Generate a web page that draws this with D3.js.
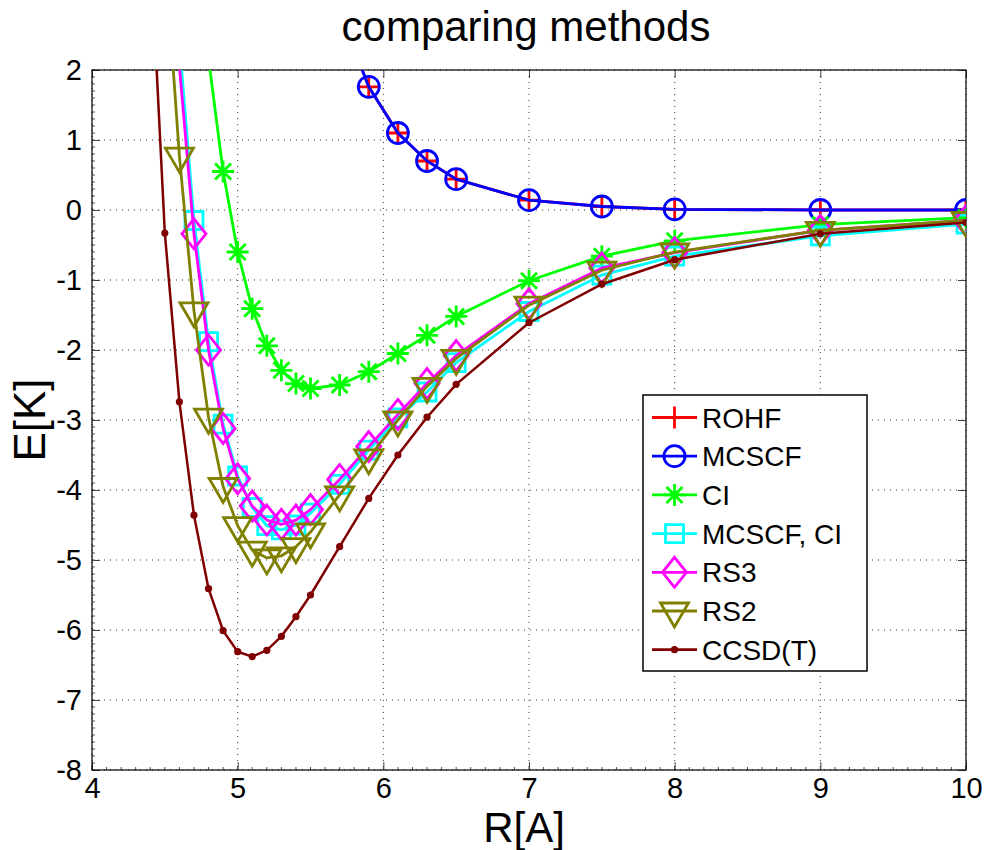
<!DOCTYPE html>
<html>
<head>
<meta charset="utf-8">
<script src="https://cdn.jsdelivr.net/npm/d3@7"></script>
<style>
  body { margin: 0; background: #fff; }
  text { font-family: "Liberation Sans", Arial, Helvetica, sans-serif; fill: #000; }
</style>
</head>
<body>
<div class="chart"></div>
<script>
// data
var seriesNames = ["ROHF", "MCSCF", "CI", "MCSCF, CI", "RS3", "RS2", "CCSD(T)"];
var seriesColors = ["#ff0000", "#0000ff", "#00ff00", "#00ffff", "#ff00ff", "#808000", "#800000"];
var seriesMarkers = ["plus", "circle", "asterisk", "square", "diamond", "triangle", "dot"];

var rohfX = [5.7, 5.9, 6.1, 6.3, 6.5, 7, 7.5, 8, 9, 10];
var rohfY = [2.83, 1.76, 1.1, 0.7, 0.44, 0.14, 0.05, 0.01, 0.0, 0.0];

var mcscfX = [5.7, 5.9, 6.1, 6.3, 6.5, 7, 7.5, 8, 9, 10];
var mcscfY = [2.83, 1.76, 1.1, 0.7, 0.44, 0.14, 0.05, 0.01, 0.0, 0.0];

var ciX = [4.8, 4.9, 5.0, 5.1, 5.2, 5.3, 5.4, 5.5, 5.7, 5.9, 6.1, 6.3, 6.5, 7, 7.5, 8, 9, 10];
var ciY = [2.16, 0.55, -0.6, -1.41, -1.94, -2.29, -2.48, -2.55, -2.5, -2.31, -2.05, -1.79, -1.52, -1.01, -0.66, -0.44, -0.21, -0.11];

var mcciX = [4.6, 4.7, 4.8, 4.9, 5.0, 5.1, 5.2, 5.3, 5.4, 5.5, 5.7, 5.9, 6.1, 6.3, 6.5, 7, 7.5, 8, 9, 10];
var mcciY = [2.4, -0.15, -1.88, -3.06, -3.8, -4.25, -4.51, -4.57, -4.5, -4.33, -3.92, -3.43, -2.97, -2.6, -2.18, -1.45, -0.93, -0.66, -0.37, -0.2];

var rs3X = [4.5, 4.6, 4.7, 4.8, 4.9, 5.0, 5.1, 5.2, 5.3, 5.4, 5.5, 5.7, 5.9, 6.1, 6.3, 6.5, 7, 7.5, 8, 9, 10];
var rs3Y = [6.0, 2.05, -0.34, -2.0, -3.12, -3.84, -4.23, -4.43, -4.49, -4.43, -4.28, -3.85, -3.38, -2.92, -2.48, -2.08, -1.34, -0.83, -0.61, -0.29, -0.15];

var rs2X = [4.5, 4.6, 4.7, 4.8, 4.9, 5.0, 5.1, 5.2, 5.3, 5.4, 5.5, 5.7, 5.9, 6.1, 6.3, 6.5, 7, 7.5, 8, 9, 10];
var rs2Y = [3.7, 0.77, -1.44, -2.96, -3.95, -4.51, -4.86, -4.97, -4.94, -4.81, -4.6, -4.07, -3.54, -3.0, -2.52, -2.12, -1.36, -0.86, -0.6, -0.29, -0.15];

var ccsdX = [4.4, 4.5, 4.6, 4.7, 4.8, 4.9, 5.0, 5.1, 5.2, 5.3, 5.4, 5.5, 5.7, 5.9, 6.1, 6.3, 6.5, 7, 7.5, 8, 9, 10];
var ccsdY = [3.83, -0.33, -2.74, -4.36, -5.41, -6.01, -6.31, -6.38, -6.29, -6.09, -5.81, -5.5, -4.81, -4.12, -3.5, -2.96, -2.49, -1.61, -1.06, -0.71, -0.34, -0.18];

var xTicks = [4, 5, 6, 7, 8, 9, 10];
var yTicks = [2, 1, 0, -1, -2, -3, -4, -5, -6, -7, -8];

var allX = [rohfX, mcscfX, ciX, mcciX, rs3X, rs2X, ccsdX];
var allY = [rohfY, mcscfY, ciY, mcciY, rs3Y, rs2Y, ccsdY];

var svgWidth = 984;
var svgHeight = 850;

var margin = { top: 70, right: 18, bottom: 80, left: 92 };
var width = 966 - margin.left;
var height = 770 - margin.top;

var svg = d3.select(".chart")
  .append("svg")
  .attr("width", svgWidth)
  .attr("height", svgHeight);

svg.append("rect").attr("width", svgWidth).attr("height", svgHeight).attr("fill", "#fff");

var chartGroup = svg.append("g")
  .attr("transform", `translate(${margin.left}, ${margin.top})`);

// scales
var xScale = d3.scaleLinear().domain([4, 10]).range([0, width]);
var yScale = d3.scaleLinear().domain([-8, 2]).range([height, 0]);

// dotted grid
chartGroup.append("g")
  .selectAll("line")
  .data(xTicks)
  .enter()
  .append("line")
  .attr("x1", d => xScale(d)).attr("x2", d => xScale(d))
  .attr("y1", 0).attr("y2", height)
  .attr("stroke", "#333").attr("stroke-width", 1)
  .attr("stroke-dasharray", "1,5");

chartGroup.append("g")
  .selectAll("line")
  .data(yTicks)
  .enter()
  .append("line")
  .attr("x1", 0).attr("x2", width)
  .attr("y1", d => yScale(d)).attr("y2", d => yScale(d))
  .attr("stroke", "#333").attr("stroke-width", 1)
  .attr("stroke-dasharray", "1,5");

// axes, ticks inside on all four sides
var bottomAxis = d3.axisBottom(xScale).tickValues(xTicks).tickSizeInner(-8).tickSizeOuter(0).tickPadding(7)
  .tickFormat(d => String(d));
var topAxis = d3.axisTop(xScale).tickValues(xTicks).tickSizeInner(-8).tickSizeOuter(0).tickFormat("");
var leftAxis = d3.axisLeft(yScale).tickValues(yTicks).tickSizeInner(-8).tickSizeOuter(0).tickPadding(10)
  .tickFormat(d => String(d));
var rightAxis = d3.axisRight(yScale).tickValues(yTicks).tickSizeInner(-8).tickSizeOuter(0).tickFormat("");

var minorX = d3.range(40, 101, 1).map(d => d / 10);
var minorY = d3.range(-80, 21, 1).map(d => d / 10);

function styleAxis(g) {
  g.select(".domain").remove();
  g.selectAll(".tick line").attr("stroke", "#444").attr("stroke-width", 1);
  g.selectAll(".tick text").style("font-size", "29px").attr("fill", "#000");
}

chartGroup.append("g").attr("transform", `translate(0, ${height})`).call(bottomAxis).call(styleAxis);
chartGroup.append("g").call(topAxis).call(styleAxis);
chartGroup.append("g").call(leftAxis).call(styleAxis);
chartGroup.append("g").attr("transform", `translate(${width}, 0)`).call(rightAxis).call(styleAxis);

// minor ticks
chartGroup.append("g").selectAll("line").data(minorX).enter().append("line")
  .attr("x1", d => xScale(d)).attr("x2", d => xScale(d))
  .attr("y1", height).attr("y2", height - 3)
  .attr("stroke", "#555").attr("stroke-width", 1);
chartGroup.append("g").selectAll("line").data(minorY).enter().append("line")
  .attr("x1", 0).attr("x2", 3)
  .attr("y1", d => yScale(d)).attr("y2", d => yScale(d))
  .attr("stroke", "#555").attr("stroke-width", 1);

// box
chartGroup.append("rect")
  .attr("width", width).attr("height", height)
  .attr("fill", "none").attr("stroke", "#000").attr("stroke-width", 1.2);

// clip
svg.append("defs").append("clipPath").attr("id", "plotclip")
  .append("rect").attr("width", width).attr("height", height);

var plotArea = chartGroup.append("g").attr("clip-path", "url(#plotclip)");

function markerPath(type) {
  var p = d3.path();
  if (type === "plus") {
    p.moveTo(-11, 0); p.lineTo(11, 0); p.moveTo(0, -11); p.lineTo(0, 11);
  } else if (type === "asterisk") {
    p.moveTo(-11, 0); p.lineTo(11, 0); p.moveTo(0, -11); p.lineTo(0, 11);
    p.moveTo(-8, -8); p.lineTo(8, 8); p.moveTo(-8, 8); p.lineTo(8, -8);
  } else if (type === "square") {
    p.rect(-9, -9, 18, 18);
  } else if (type === "diamond") {
    p.moveTo(0, -15); p.lineTo(12, 0); p.lineTo(0, 15); p.lineTo(-12, 0); p.closePath();
  } else if (type === "triangle") {
    p.moveTo(0, 16); p.lineTo(-14, -8); p.lineTo(14, -8); p.closePath();
  }
  return p.toString();
}

function drawMarker(g, type, color) {
  if (type === "circle") {
    g.append("circle").attr("r", 10.5).attr("fill", "none").attr("stroke", color).attr("stroke-width", 2.8);
  } else if (type === "dot") {
    g.append("circle").attr("r", 3.6).attr("fill", color).attr("stroke", "none");
  } else {
    g.append("path").attr("d", markerPath(type)).attr("fill", "none")
      .attr("stroke", color).attr("stroke-width", 2.8).attr("stroke-linejoin", "miter");
  }
}

var line = d3.line().x(d => xScale(d[0])).y(d => yScale(d[1]));

seriesNames.forEach(function (name, i) {
  var pts = allX[i].map((x, j) => [x, allY[i][j]]);
  plotArea.append("path")
    .datum(pts)
    .attr("d", line)
    .attr("fill", "none")
    .attr("stroke", seriesColors[i])
    .attr("stroke-width", i === 6 ? 2.5 : 2.8);

  // markers only for points inside the axes
  pts.filter(d => d[1] <= 2 && d[1] >= -8).forEach(function (d) {
    var g = plotArea.append("g").attr("transform", `translate(${xScale(d[0])}, ${yScale(d[1])})`);
    drawMarker(g, seriesMarkers[i], seriesColors[i]);
  });
});

// legend
var legend = svg.append("g").attr("transform", "translate(643, 395)");
legend.append("rect")
  .attr("width", 224).attr("height", 276)
  .attr("fill", "#fff").attr("stroke", "#000").attr("stroke-width", 1.5);

seriesNames.forEach(function (name, i) {
  var y = 22.5 + i * 38.7;
  legend.append("line")
    .attr("x1", 9).attr("x2", 54).attr("y1", y).attr("y2", y)
    .attr("stroke", seriesColors[i]).attr("stroke-width", 2.8);
  var g = legend.append("g").attr("transform", `translate(31.5, ${y})`);
  drawMarker(g, seriesMarkers[i], seriesColors[i]);
  legend.append("text")
    .attr("x", 59).attr("y", y + 10)
    .style("font-size", "28px")
    .text(name);
});

// title and axis labels
svg.append("text")
  .attr("x", 526).attr("y", 41)
  .attr("text-anchor", "middle")
  .style("font-size", "42px")
  .text("comparing methods");

svg.append("text")
  .attr("transform", "translate(45, 420) rotate(-90)")
  .attr("text-anchor", "middle")
  .style("font-size", "44px")
  .text("E[K]");

svg.append("text")
  .attr("x", 524).attr("y", 842)
  .attr("text-anchor", "middle")
  .style("font-size", "42px")
  .text("R[A]");
</script>
</body>
</html>
